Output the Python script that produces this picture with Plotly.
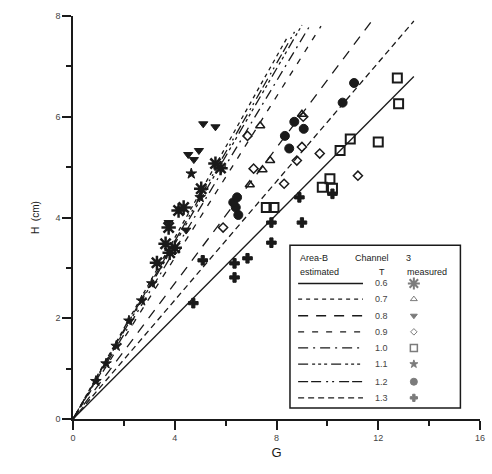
import plotly.graph_objects as go

# ---------------- data ----------------
T_labels = ["0.6", "0.7", "0.8", "0.9", "1.0", "1.1", "1.2", "1.3"]

# estimated lines (from origin to end point)
line_end_G = [13.4, 8.45, 11.8, 9.75, 9.35, 9.0, 8.75, 13.4]
line_end_H = [6.80, 7.60, 7.94, 7.80, 7.84, 7.82, 7.72, 7.90]

# measured points
m06_G = [5.60, 5.80, 4.15, 4.35, 3.76, 3.64, 4.00, 3.80, 5.04, 3.30]
m06_H = [5.07, 4.98, 4.14, 4.20, 3.80, 3.48, 3.40, 3.30, 4.57, 3.10]

m07_G = [7.36, 7.75, 7.45, 6.95, 9.00]
m07_H = [5.82, 5.13, 4.95, 4.65, 6.05]

m08_G = [5.12, 5.60, 4.53, 4.95, 4.75, 3.76, 4.45]
m08_H = [5.86, 5.80, 5.25, 5.33, 5.15, 3.90, 3.75]

m09_G = [6.86, 7.10, 5.90, 8.30, 8.80, 9.00, 9.70, 11.20, 9.05]
m09_H = [5.62, 4.97, 3.80, 4.67, 5.13, 5.40, 5.27, 4.83, 6.00]

m10_G = [12.75, 12.80, 12.00, 10.90, 10.50, 9.80, 10.10, 10.20, 7.60, 7.90]
m10_H = [6.77, 6.26, 5.50, 5.56, 5.33, 4.60, 4.77, 4.58, 4.20, 4.20]

m11_G = [4.65, 5.00, 3.10, 2.70, 2.20, 1.70, 1.30, 0.90]
m11_H = [4.87, 4.40, 2.69, 2.35, 1.95, 1.45, 1.10, 0.75]

m12_G = [11.05, 10.60, 9.07, 8.70, 8.33, 8.50, 6.40, 6.50, 6.30, 6.45]
m12_H = [6.67, 6.28, 5.76, 5.90, 5.62, 5.37, 4.20, 4.05, 4.30, 4.40]

m13_G = [4.73, 5.10, 6.35, 6.86, 6.35, 7.80, 7.80, 9.00, 8.90, 10.20]
m13_H = [2.30, 3.15, 3.09, 3.19, 2.81, 3.90, 3.50, 3.90, 4.40, 4.47]

x_ticks = [0, 4, 8, 12, 16]
y_ticks = [0, 2, 4, 6, 8]

# ---------------- styles ----------------
dashes = ["solid", "4px,4px", "10px,8px", "6px,8px", "10px,5px,2px,5px",
          "10px,4px,3px,3px,3px,3px,3px,4px", "10px,3px,10px,5px,2px,4px,2px,5px",
          "6px,4px"]
symbols = ["asterisk-open", "triangle-up-open", "triangle-down", "diamond-open",
           "square-open", "star", "circle", "cross"]
sizes = [12, 8, 8, 7, 9, 8, 9, 8]
lw = [2.5, 1.5, 1, 1.5, 2, 1, 1, 1]

ink = "#1a1a1a"
fig = go.Figure()

for i, t in enumerate(T_labels):
    fig.add_trace(go.Scatter(
        x=[0, line_end_G[i]], y=[0, line_end_H[i]], mode="lines",
        line=dict(color=ink, width=1.3, dash=dashes[i]),
        showlegend=False, hoverinfo="skip"))

meas = [(m06_G, m06_H), (m07_G, m07_H), (m08_G, m08_H), (m09_G, m09_H),
        (m10_G, m10_H), (m11_G, m11_H), (m12_G, m12_H), (m13_G, m13_H)]
for i, (gx, hy) in enumerate(meas):
    fig.add_trace(go.Scatter(
        x=gx, y=hy, mode="markers",
        marker=dict(symbol=symbols[i], size=sizes[i], color=ink,
                    line=dict(color=ink, width=lw[i])),
        showlegend=False, hoverinfo="skip"))

# ---------------- custom legend box ----------------
box = dict(x0=8.53, x1=15.23, y0=0.22, y1=3.45)
fig.add_shape(type="rect", xref="x", yref="y", **box,
              line=dict(color=ink, width=1.5), fillcolor="white", layer="below")

row_H = [2.69, 2.38, 2.05, 1.73, 1.41, 1.09, 0.74, 0.42]
for i, t in enumerate(T_labels):
    fig.add_shape(type="line", xref="x", yref="y", x0=8.85, x1=11.4,
                  y0=row_H[i], y1=row_H[i], layer="above",
                  line=dict(color=ink, width=1.3, dash=dashes[i]))
    fig.add_annotation(x=12.13, y=row_H[i], text=t, showarrow=False,
                       font=dict(size=9, color="#444", family="Liberation Sans"))
fig.add_trace(go.Scatter(
    x=[13.4] * 8, y=row_H, mode="markers",
    marker=dict(symbol=symbols, size=[s - 2 for s in sizes], color="#444",
                line=dict(color="#444", width=[max(w - 0.5, 1) for w in lw])),
    showlegend=False, hoverinfo="skip"))

hdr_font = dict(size=9, color=ink, family="Liberation Sans")
for txt, gx, hy, anc in [("Area-B", 8.84, 3.19, "left"), ("Channel", 11.0, 3.19, "left"),
                         ("3", 13.0, 3.19, "left"), ("estimated", 8.84, 2.91, "left"),
                         ("T", 12.13, 2.91, "center"), ("measured", 13.05, 2.91, "left")]:
    fig.add_annotation(x=gx, y=hy, text=txt, showarrow=False, xanchor=anc,
                       font=hdr_font)

axis_common = dict(showgrid=False, zeroline=False, showline=True, linecolor=ink,
                   linewidth=1.5, ticks="outside", ticklen=9, tickwidth=1.5,
                   tickcolor=ink, tickfont=dict(size=9, color="#444",
                                                family="Liberation Sans"),
                   minor=dict(ticks="outside", ticklen=5, tickwidth=1.5,
                              tickcolor=ink))

fig.update_xaxes(range=[0, 16], tickvals=x_ticks, minor_dtick=2,
                 title=dict(text="G", font=dict(size=13, color=ink,
                                                family="Liberation Sans"),
                            standoff=6),
                 **axis_common)
fig.update_yaxes(range=[0, 8], tickvals=y_ticks, minor_dtick=1,
                 title=dict(text="H  (cm)", font=dict(size=10, color=ink,
                                                     family="Liberation Sans"),
                            standoff=14),
                 **axis_common)

fig.update_layout(width=492, height=474, margin=dict(l=73, r=7, t=16, b=55),
                  plot_bgcolor="white", paper_bgcolor="white", showlegend=False)

fig.write_html("out.html")
